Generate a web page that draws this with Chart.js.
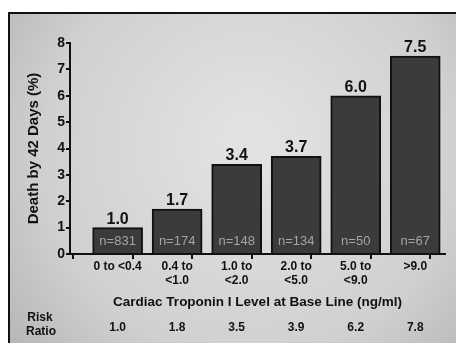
<!DOCTYPE html>
<html lang="en">
<head>
<meta charset="UTF-8" />
<title>Death by 42 Days vs Cardiac Troponin I</title>
<script src="https://cdn.jsdelivr.net/npm/chart.js@4.4.0/dist/chart.umd.min.js"></script>
<style>
  html, body { margin: 0; padding: 0; background: #fff; }
  #wrap { width: 456px; height: 343px; }
</style>
</head>
<body>
<div id="wrap"><canvas id="myChart" width="456" height="343"></canvas></div>
<script>
// values
const categories = [
  ['0 to <0.4'],
  ['0.4 to', '<1.0'],
  ['1.0 to', '<2.0'],
  ['2.0 to', '<5.0'],
  ['5.0 to', '<9.0'],
  ['>9.0']
];
const deaths = [1.0, 1.7, 3.4, 3.7, 6.0, 7.5];
const counts = ['n=831', 'n=174', 'n=148', 'n=134', 'n=50', 'n=67'];
const riskRatios = ['1.0', '1.8', '3.5', '3.9', '6.2', '7.8'];
const yTicks = [0, 1, 2, 3, 4, 5, 6, 7, 8];

const FONT = '"Liberation Sans", Arial, sans-serif';

// gray panel behind everything
const panel = {
  id: 'panel',
  beforeDraw(chart) {
    const c = chart.ctx;
    c.save();
    const g = c.createRadialGradient(250, 140, 20, 250, 160, 330);
    g.addColorStop(0, '#e2e2e2');
    g.addColorStop(0.6, '#d0d0d0');
    g.addColorStop(1, '#b0b0b0');
    c.fillStyle = g;
    c.fillRect(8, 12, chart.width - 8, chart.height - 12);
    c.strokeStyle = '#111';
    c.lineWidth = 2;
    c.beginPath();
    c.moveTo(9, chart.height);
    c.lineTo(9, 13);
    c.lineTo(chart.width, 13);
    c.stroke();
    c.restore();
  }
};

// value labels above bars, n= inside bars, risk ratio row
const labels = {
  id: 'labels',
  afterDatasetsDraw(chart) {
    const c = chart.ctx;
    const bars = chart.getDatasetMeta(0).data;
    c.save();
    c.textAlign = 'center';
    bars.forEach((bar, i) => {
      c.fillStyle = '#111';
      c.font = 'bold 16px ' + FONT;
      c.textBaseline = 'alphabetic';
      c.fillText(deaths[i].toFixed(1), bar.x, bar.y - 4);
      c.fillStyle = '#a4a4a4';
      c.font = '13px ' + FONT;
      c.textBaseline = 'middle';
      c.fillText(counts[i], bar.x, chart.scales.y.getPixelForValue(0) - 13);
    });

    const xs = chart.scales.x;
    c.fillStyle = '#111';
    c.font = 'bold 12px ' + FONT;
    c.textBaseline = 'middle';
    riskRatios.forEach((r, i) => {
      c.fillText(r, xs.getPixelForValue(i), 328);
    });
    c.fillText('Risk', 40, 318);
    c.fillText('Ratio', 41, 332);
    c.restore();
  }
};

const ctx = document.getElementById('myChart').getContext('2d');
const myChart = new Chart(ctx, {
  type: 'bar',
  data: {
    datasets: [{
      data: deaths.map((v, i) => ({ x: i, y: v })),
      backgroundColor: '#3b3b3b',
      borderColor: '#111',
      borderWidth: 2,
      borderSkipped: 'bottom',
      barThickness: 50
    }]
  },
  options: {
    responsive: false,
    animation: false,
    layout: { padding: { top: 43, right: 11, bottom: 30, left: 0 } },
    plugins: { legend: { display: false }, tooltip: { enabled: false } },
    scales: {
      x: {
        type: 'linear',
        min: -0.8,
        max: 5.5,
        offset: false,
        afterBuildTicks(scale) {
          const t = [];
          for (let v = -0.5; v <= 5.5; v += 0.5) t.push({ value: v });
          scale.ticks = t;
        },
        afterFit(scale) { scale.height = 59; },
        border: { color: '#111', width: 2 },
        grid: {
          drawOnChartArea: false,
          tickLength: 5,
          lineWidth: 2,
          color: c => (c.tick && Number.isInteger(c.tick.value)) ? 'rgba(0,0,0,0)' : '#111'
        },
        ticks: {
          autoSkip: false,
          maxRotation: 0,
          minRotation: 0,
          padding: 1,
          color: '#111',
          font: { family: FONT, size: 12, weight: 'bold', lineHeight: 1.15 },
          callback: v => Number.isInteger(v) ? categories[v] : ''
        },
        title: {
          display: true,
          text: 'Cardiac Troponin I Level at Base Line (ng/ml)',
          color: '#111',
          font: { family: FONT, size: 13.5, weight: 'bold' },
          padding: { top: 0, bottom: 3 }
        }
      },
      y: {
        min: 0,
        max: 8,
        afterBuildTicks(scale) { scale.ticks = yTicks.map(v => ({ value: v })); },
        afterFit(scale) { scale.width = 70; },
        border: { color: '#111', width: 2 },
        grid: { drawOnChartArea: false, tickLength: 4, lineWidth: 2, color: '#111' },
        ticks: {
          padding: 1,
          color: '#111',
          font: { family: FONT, size: 14, weight: 'bold' }
        },
        title: {
          display: true,
          text: 'Death by 42 Days (%)',
          color: '#111',
          font: { family: FONT, size: 15, weight: 'bold' },
          padding: { top: 25, bottom: 0 }
        }
      }
    }
  },
  plugins: [panel, labels]
});
</script>
</body>
</html>
